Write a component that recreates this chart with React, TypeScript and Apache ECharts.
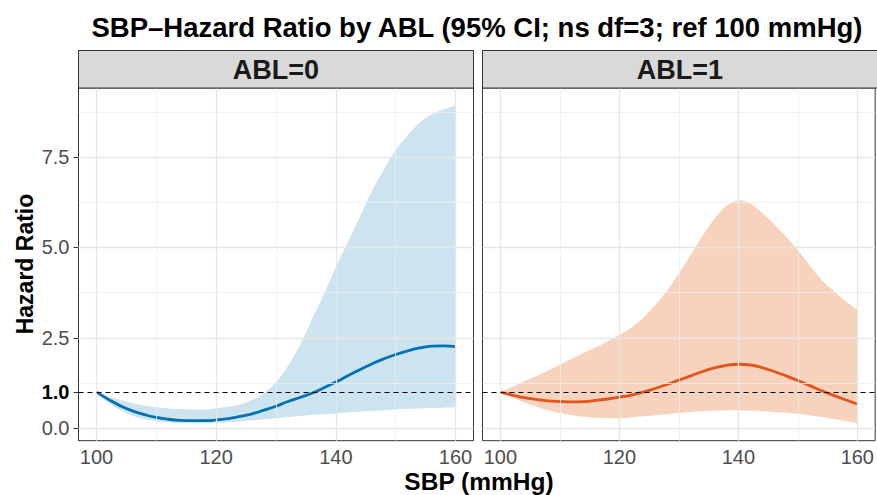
import React, { useEffect, useRef } from "react";
import * as echarts from "echarts";

const sbp = [100, 102, 104, 106, 108, 110, 112, 114, 116, 118, 120, 122, 124, 126, 128, 130, 132, 134, 136, 138, 140, 142, 144, 146, 148, 150, 152, 154, 156, 158, 160];

// ABL = 0
const hr0 = [1.0, 0.8, 0.62, 0.48, 0.38, 0.3, 0.25, 0.22, 0.21, 0.21, 0.23, 0.27, 0.33, 0.4, 0.5, 0.61, 0.74, 0.85, 0.97, 1.12, 1.28, 1.45, 1.62, 1.78, 1.92, 2.04, 2.14, 2.22, 2.27, 2.28, 2.26];
const lo0 = [1.0, 0.7, 0.5, 0.35, 0.26, 0.2, 0.17, 0.15, 0.14, 0.14, 0.15, 0.17, 0.19, 0.22, 0.25, 0.28, 0.31, 0.34, 0.37, 0.39, 0.41, 0.44, 0.46, 0.48, 0.5, 0.52, 0.54, 0.55, 0.56, 0.57, 0.58];
const hi0 = [1.0, 0.88, 0.78, 0.7, 0.63, 0.58, 0.55, 0.53, 0.52, 0.52, 0.55, 0.6, 0.66, 0.78, 0.97, 1.28, 1.72, 2.3, 3.0, 3.72, 4.45, 5.15, 5.85, 6.55, 7.15, 7.7, 8.1, 8.45, 8.68, 8.82, 8.92];

// ABL = 1
const hr1 = [1.0, 0.92, 0.85, 0.8, 0.76, 0.74, 0.73, 0.74, 0.77, 0.81, 0.86, 0.92, 1.0, 1.1, 1.21, 1.33, 1.45, 1.57, 1.67, 1.74, 1.77, 1.75, 1.68, 1.57, 1.45, 1.32, 1.18, 1.04, 0.91, 0.79, 0.67];
const lo1 = [1.0, 0.85, 0.72, 0.6, 0.5, 0.42, 0.36, 0.32, 0.29, 0.28, 0.28, 0.3, 0.33, 0.36, 0.39, 0.42, 0.45, 0.47, 0.49, 0.5, 0.5, 0.49, 0.47, 0.45, 0.43, 0.4, 0.36, 0.31, 0.26, 0.2, 0.14];
const hi1 = [1.0, 1.15, 1.3, 1.44, 1.6, 1.76, 1.92, 2.08, 2.24, 2.4, 2.58, 2.78, 3.05, 3.4, 3.8, 4.28, 4.8, 5.32, 5.8, 6.15, 6.3, 6.22, 5.95, 5.65, 5.3, 4.92, 4.5, 4.1, 3.8, 3.52, 3.27];

const panelLabels = ["ABL=0", "ABL=1"];
const xBreaks = [100, 120, 140, 160];
const xMinor = [110, 130, 150];
const yBreaks = [0, 2.5, 5, 7.5];
const yMajorGrid = [0, 2.5, 5, 7.5];
const yMinor = [1.25, 3.75, 6.25, 8.75];
const refHR = 1;

const FONT = "Liberation Sans, Arial, Helvetica, sans-serif";

// Catmull-Rom spline through screen points -> cubic bezier path commands
function splineCmds(pts: number[][], moveFirst: boolean): string {
  let d = moveFirst ? `M${pts[0][0]},${pts[0][1]}` : `L${pts[0][0]},${pts[0][1]}`;
  const n = pts.length;
  for (let i = 0; i < n - 1; i++) {
    const p0 = pts[Math.max(i - 1, 0)];
    const p1 = pts[i];
    const p2 = pts[i + 1];
    const p3 = pts[Math.min(i + 2, n - 1)];
    const c1x = p1[0] + (p2[0] - p0[0]) / 6;
    const c1y = p1[1] + (p2[1] - p0[1]) / 6;
    const c2x = p2[0] - (p3[0] - p1[0]) / 6;
    const c2y = p2[1] - (p3[1] - p1[1]) / 6;
    d += `C${c1x},${c1y},${c2x},${c2y},${p2[0]},${p2[1]}`;
  }
  return d;
}

export default function App() {
  const ref = useRef<HTMLDivElement>(null);
  useEffect(() => {
    if (!ref.current) return;
    const chart = echarts.init(ref.current, null, { renderer: "svg" });

    const panels = [
      { hr: hr0, lo: lo0, hi: hi0, line: "#0072B2", fill: "rgba(0,114,178,0.2)" },
      { hr: hr1, lo: lo1, hi: hi1, line: "#E4531B", fill: "rgba(228,110,40,0.3)" },
    ];
    const grids = [
      { left: 78.5, top: 88, width: 395, height: 352.7 },
      { left: 482.5, top: 88, width: 395, height: 352.7 },
    ];

    const series: any[] = [];
    panels.forEach((p, i) => {
      const gridData: any[] = [];
      xBreaks.forEach((v) => gridData.push({ xAxis: v, lineStyle: { color: "#e6e6e6", width: 1.3, type: "solid" } }));
      xMinor.forEach((v) => gridData.push({ xAxis: v, lineStyle: { color: "#eeeeee", width: 0.8, type: "solid" } }));
      yMajorGrid.forEach((v) => gridData.push({ yAxis: v, lineStyle: { color: "#e6e6e6", width: 1.3, type: "solid" } }));
      yMinor.forEach((v) => gridData.push({ yAxis: v, lineStyle: { color: "#eeeeee", width: 0.8, type: "solid" } }));
      series.push({
        type: "line",
        xAxisIndex: i,
        yAxisIndex: i,
        data: [[sbp[0], p.hr[0]]],
        symbol: "none",
        lineStyle: { opacity: 0 },
        z: 1,
        silent: true,
        markLine: { silent: true, symbol: "none", label: { show: false }, animation: false, data: gridData },
      });
      series.push({
        type: "custom",
        xAxisIndex: i,
        yAxisIndex: i,
        data: sbp.map((x, k) => [x, p.lo[k], p.hi[k]]),
        z: 2,
        silent: true,
        renderItem: (params: any, api: any) => {
          if (params.dataIndex !== 0) return null;
          const upper = sbp.map((x, k) => api.coord([x, p.hi[k]]));
          const lower = sbp.map((x, k) => api.coord([x, p.lo[k]])).reverse();
          const d = splineCmds(upper, true) + splineCmds(lower, false) + "Z";
          return {
            type: "path",
            shape: { pathData: d },
            style: { fill: p.fill, stroke: "none" },
          };
        },
      });
      series.push({
        type: "line",
        xAxisIndex: i,
        yAxisIndex: i,
        data: sbp.map((x, k) => [x, p.hr[k]]),
        symbol: "none",
        smooth: true,
        lineStyle: { color: p.line, width: 2.8 },
        z: 3,
        silent: true,
        markLine: {
          silent: true,
          symbol: "none",
          label: { show: false },
          data: [{ yAxis: refHR }],
          lineStyle: { color: "#000", width: 1.2, type: [5, 4] },
          z: 5,
        },
      });
    });

    const yBase = { type: "value", min: -0.343, max: 9.408, splitLine: { show: false } };

    const option: any = {
      animation: false,
      grid: grids.map((g) => ({ ...g, show: true, borderColor: "#333", borderWidth: 1, backgroundColor: "#fff", containLabel: false })),
      xAxis: grids.map((g, i) => ({
        type: "value",
        gridIndex: i,
        min: 97,
        max: 163,
        splitLine: { show: false },
        axisLine: { show: true, lineStyle: { color: "#333", width: 1 } },
        axisTick: { show: true, length: 5, customValues: xBreaks, lineStyle: { color: "#333", width: 1 } },
        axisLabel: { show: true, customValues: xBreaks, margin: 6, color: "#4d4d4d", fontSize: 20, fontFamily: FONT },
      })),
      yAxis: [
        {
          ...yBase,
          gridIndex: 0,
          position: "left",
          axisLine: { show: true, lineStyle: { color: "#333", width: 1 } },
          axisTick: { show: true, length: 5, customValues: yBreaks, lineStyle: { color: "#333", width: 1 } },
          axisLabel: {
            show: true,
            customValues: yBreaks,
            margin: 9,
            fontFamily: FONT,
            fontSize: 20,
            color: "#4d4d4d",
            formatter: (v: number) => v.toFixed(1),
          },
        },
        {
          ...yBase,
          gridIndex: 1,
          position: "left",
          axisLine: { show: false },
          axisTick: { show: false },
          axisLabel: { show: false },
        },
        {
          ...yBase,
          gridIndex: 0,
          position: "left",
          offset: 0,
          axisLine: { show: false },
          axisTick: { show: true, length: 5, customValues: [refHR], lineStyle: { color: "#333", width: 1 } },
          axisLabel: {
            show: true,
            customValues: [refHR],
            margin: 9,
            fontFamily: FONT,
            fontSize: 20,
            fontWeight: "bold",
            color: "#000",
            formatter: (v: number) => v.toFixed(1),
          },
        },
      ],
      series,
      graphic: [
        {
          type: "text",
          x: 477,
          y: 27,
          style: {
            text: "SBP\u2013Hazard Ratio by ABL (95% CI; ns df=3; ref 100 mmHg)",
            align: "center",
            verticalAlign: "middle",
            font: "bold 27.5px " + FONT,
            fill: "#000",
          },
        },
        ...grids.map((g) => ({
          type: "rect",
          shape: { x: g.left, y: 50.5, width: g.width, height: 37.5 },
          style: { fill: "#d9d9d9", stroke: "#333", lineWidth: 1 },
          z: 10,
        })),
        ...grids.map((g, i) => ({
          type: "text",
          x: g.left + g.width / 2,
          y: 69.5,
          style: {
            text: panelLabels[i],
            align: "center",
            verticalAlign: "middle",
            font: "bold 27px " + FONT,
            fill: "#1a1a1a",
          },
          z: 11,
        })),
        {
          type: "text",
          x: 25,
          y: 264,
          rotation: Math.PI / 2,
          style: {
            text: "Hazard Ratio",
            align: "center",
            verticalAlign: "middle",
            font: "bold 23px " + FONT,
            fill: "#000",
          },
        },
        {
          type: "text",
          x: 479,
          y: 481,
          style: {
            text: "SBP (mmHg)",
            align: "center",
            verticalAlign: "middle",
            font: "bold 24.5px " + FONT,
            fill: "#000",
          },
        },
      ],
    };
    chart.setOption(option);
    return () => chart.dispose();
  }, []);
  return <div ref={ref} style={{ position: "fixed", left: 0, top: 0, width: 877, height: 495, background: "#fff" }} />;
}
